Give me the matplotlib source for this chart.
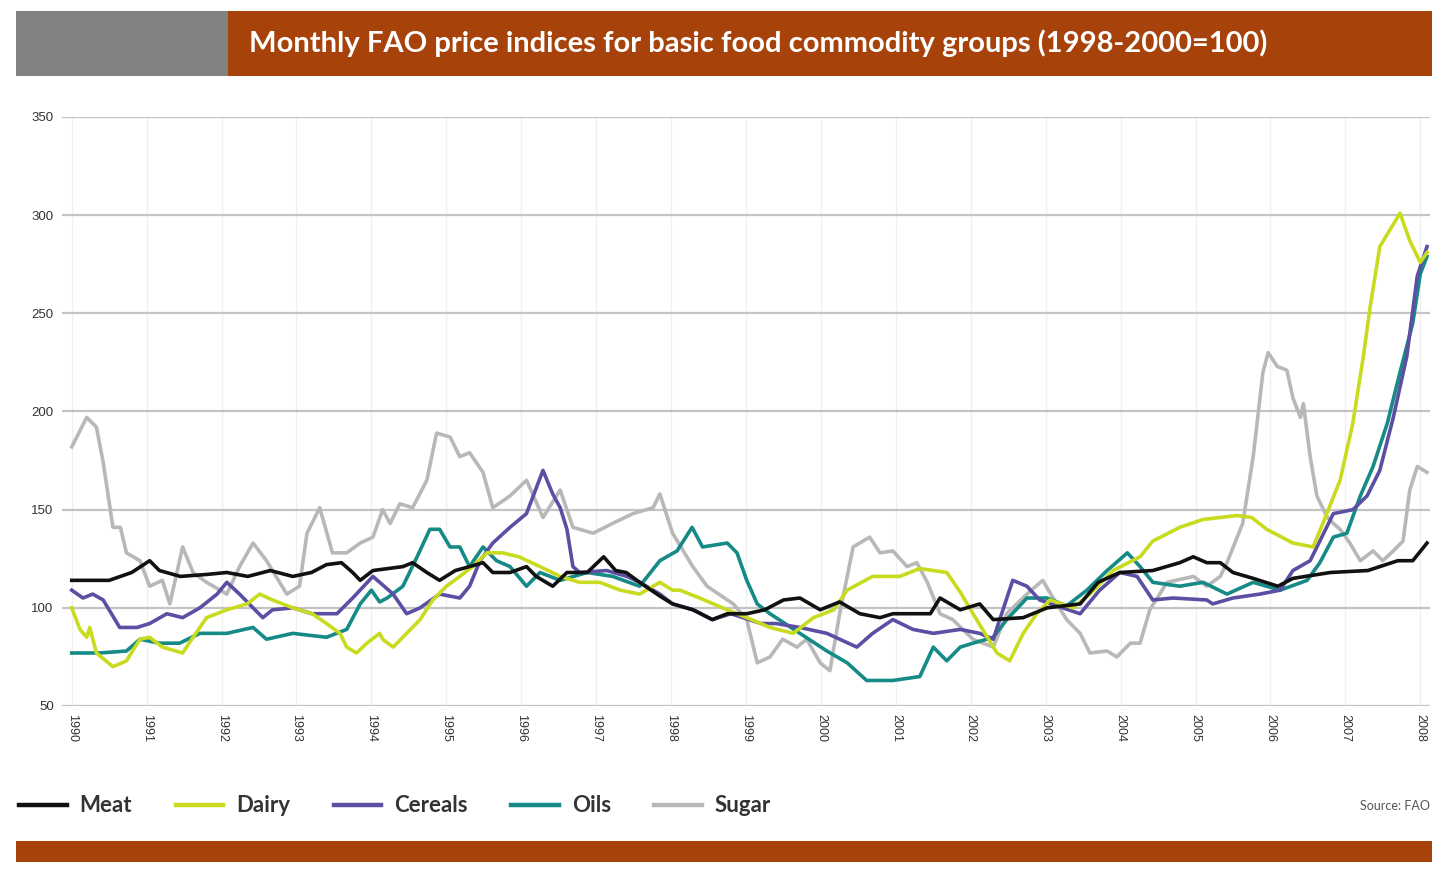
import matplotlib
matplotlib.use("Agg")
import matplotlib.pyplot as plt
from matplotlib.patches import Rectangle
from matplotlib.lines import Line2D

plt.rcParams['font.family'] = ['Lato', 'DejaVu Sans']

title = "Monthly FAO price indices for basic food commodity groups (1998-2000=100)"
source = "Source: FAO"
years = list(range(1990, 2009))
yticks = [50, 100, 150, 200, 250, 300, 350]

# (decimal year, index value)
meat = [(1990.0,114),(1990.5,114),(1990.8,118),(1991.04,124),(1991.17,119),(1991.45,116),(1991.8,117),
        (1992.07,118),(1992.35,116),(1992.65,119),(1992.95,116),(1993.2,118),(1993.4,122),(1993.6,123),
        (1993.75,118),(1993.85,114),(1994.02,119),(1994.42,121),(1994.55,123),(1994.74,118),(1994.91,114),
        (1995.12,119),(1995.31,121),(1995.49,123),(1995.62,118),(1995.85,118),(1996.07,121),(1996.2,116),
        (1996.42,111),(1996.61,118),(1996.88,118),(1997.1,126),(1997.26,119),(1997.4,118),(1997.58,113),
        (1997.85,106),(1998.02,102),(1998.29,99),(1998.55,94),(1998.75,97),(1999.01,97),(1999.25,99),
        (1999.5,104),(1999.72,105),(1999.99,99),(2000.25,103),(2000.52,97),(2000.79,95),(2000.96,97),
        (2001.23,97),(2001.46,97),(2001.59,105),(2001.86,99),(2002.12,102),(2002.3,94),(2002.7,95),
        (2003.02,100),(2003.46,102),(2003.7,113),(2003.99,118),(2004.43,119),(2004.79,123),(2004.97,126),
        (2005.15,123),(2005.33,123),(2005.5,118),(2005.77,115),(2006.1,111),(2006.3,115),(2006.8,118),
        (2007.3,119),(2007.7,124),(2007.9,124),(2008.09,133)]

dairy = [(1990.0,100),(1990.11,89),(1990.2,85),(1990.24,90),(1990.33,77),(1990.55,70),(1990.73,73),
         (1990.91,84),(1991.04,85),(1991.21,80),(1991.48,77),(1991.62,85),(1991.8,95),(1992.07,99),
         (1992.34,102),(1992.51,107),(1992.68,104),(1992.95,100),(1993.21,97),(1993.4,92),(1993.58,87),
         (1993.67,80),(1993.8,77),(1993.94,82),(1994.11,87),(1994.15,84),(1994.29,80),(1994.47,87),
         (1994.65,94),(1994.82,104),(1995.0,111),(1995.18,116),(1995.35,121),(1995.54,128),(1995.75,128),
         (1995.97,126),(1996.25,121),(1996.52,116),(1996.78,113),(1997.05,113),(1997.32,109),(1997.58,107),
         (1997.85,113),(1998.02,109),(1998.12,109),(1998.38,105),(1998.75,99),(1999.01,95),(1999.32,90),
         (1999.63,87),(1999.9,95),(2000.17,99),(2000.35,109),(2000.69,116),(2001.05,116),(2001.32,120),
         (2001.68,118),(2001.86,108),(2002.03,97),(2002.35,77),(2002.52,73),(2002.7,87),(2002.88,97),
         (2003.06,104),(2003.36,100),(2003.59,107),(2003.9,119),(2004.26,126),(2004.43,134),(2004.79,141),
         (2005.1,145),(2005.55,147),(2005.75,146),(2005.95,140),(2006.3,133),(2006.57,131),(2006.7,143),
         (2006.93,165),(2007.1,194),(2007.24,228),(2007.33,253),(2007.46,284),(2007.73,301),(2007.86,287),
         (2008.0,276),(2008.09,281)]

cereals = [(1990.0,109),(1990.15,105),(1990.28,107),(1990.42,104),(1990.64,90),(1990.87,90),(1991.04,92),
           (1991.27,97),(1991.48,95),(1991.71,100),(1991.94,107),(1992.07,113),(1992.24,107),(1992.42,100),
           (1992.55,95),(1992.68,99),(1992.95,100),(1993.21,97),(1993.54,97),(1993.75,105),(1994.02,116),
           (1994.11,113),(1994.29,107),(1994.47,97),(1994.65,100),(1994.91,107),(1995.18,105),(1995.31,111),
           (1995.45,124),(1995.62,133),(1995.85,141),(1996.07,148),(1996.29,170),(1996.42,158),(1996.52,151),
           (1996.61,140),(1996.69,121),(1996.78,118),(1997.14,119),(1997.41,116),(1997.58,113),(1997.85,107),
           (1998.02,102),(1998.3,99),(1998.55,94),(1998.8,97),(1999.2,92),(1999.4,92),(1999.72,90),
           (2000.08,87),(2000.48,80),(2000.69,87),(2000.96,94),(2001.23,89),(2001.5,87),(2001.86,89),
           (2002.12,87),(2002.3,84),(2002.56,114),(2002.75,111),(2002.92,104),(2003.15,101),(2003.46,97),
           (2003.72,109),(2003.99,118),(2004.22,116),(2004.43,104),(2004.7,105),(2005.15,104),(2005.23,102),
           (2005.5,105),(2005.86,107),(2006.13,109),(2006.3,119),(2006.53,124),(2006.84,148),(2007.1,150),
           (2007.29,157),(2007.46,170),(2007.64,197),(2007.82,228),(2007.96,269),(2008.09,284)]

oils = [(1990.0,77),(1990.37,77),(1990.73,78),(1990.91,84),(1991.17,82),(1991.44,82),(1991.71,87),
        (1992.07,87),(1992.42,90),(1992.6,84),(1992.95,87),(1993.4,85),(1993.67,89),(1993.85,102),
        (1994.0,109),(1994.11,103),(1994.21,105),(1994.42,111),(1994.61,126),(1994.78,140),(1994.91,140),
        (1995.05,131),(1995.18,131),(1995.31,121),(1995.49,131),(1995.67,124),(1995.85,121),(1996.07,111),
        (1996.25,118),(1996.52,114),(1996.88,118),(1997.22,116),(1997.58,111),(1997.85,124),(1998.08,129),
        (1998.28,141),(1998.42,131),(1998.75,133),(1998.88,128),(1999.01,114),(1999.15,102),(1999.32,97),
        (1999.72,87),(2000.08,78),(2000.35,72),(2000.61,63),(2000.96,63),(2001.32,65),(2001.5,80),
        (2001.68,73),(2001.86,80),(2002.03,82),(2002.3,85),(2002.48,94),(2002.75,105),(2003.02,105),
        (2003.28,101),(2003.55,109),(2003.82,119),(2004.09,128),(2004.26,121),(2004.43,113),(2004.79,111),
        (2005.1,113),(2005.42,107),(2005.77,113),(2006.13,109),(2006.49,114),(2006.66,123),(2006.84,136),
        (2007.02,138),(2007.2,157),(2007.37,172),(2007.56,194),(2007.73,220),(2007.9,245),(2008.0,270),
        (2008.09,279)]

sugar = [(1990.0,182),(1990.2,197),(1990.33,192),(1990.42,174),(1990.55,141),(1990.65,141),(1990.73,128),
         (1990.91,124),(1991.04,111),(1991.21,114),(1991.31,102),(1991.48,131),(1991.62,118),(1991.8,113),
         (1992.07,107),(1992.24,121),(1992.42,133),(1992.6,124),(1992.87,107),(1993.04,111),(1993.14,138),
         (1993.31,151),(1993.48,128),(1993.67,128),(1993.85,133),(1994.02,136),(1994.15,150),(1994.25,143),
         (1994.38,153),(1994.55,151),(1994.74,165),(1994.87,189),(1995.05,187),(1995.18,177),(1995.31,179),
         (1995.49,169),(1995.62,151),(1995.85,157),(1996.07,165),(1996.21,153),(1996.29,146),(1996.52,160),
         (1996.69,141),(1996.96,138),(1997.22,143),(1997.49,148),(1997.76,151),(1997.85,158),(1998.02,138),
         (1998.29,121),(1998.48,111),(1998.83,102),(1999.01,94),(1999.15,72),(1999.32,75),(1999.49,84),
         (1999.68,80),(1999.81,84),(1999.99,72),(2000.12,68),(2000.25,97),(2000.43,131),(2000.65,136),
         (2000.79,128),(2000.96,129),(2001.15,121),(2001.28,123),(2001.42,113),(2001.59,97),(2001.76,94),
         (2002.03,84),(2002.3,80),(2002.48,97),(2002.75,107),(2002.96,114),(2003.1,105),(2003.28,94),
         (2003.46,87),(2003.59,77),(2003.82,78),(2003.95,75),(2004.13,82),(2004.26,82),(2004.39,99),
         (2004.62,113),(2004.97,116),(2005.15,111),(2005.33,116),(2005.42,123),(2005.63,143),(2005.77,177),
         (2005.9,220),(2005.97,230),(2006.09,223),(2006.22,221),(2006.3,207),(2006.4,197),(2006.44,204),
         (2006.53,177),(2006.62,157),(2006.76,146),(2006.84,143),(2006.93,140),(2007.06,133),(2007.2,124),
         (2007.37,129),(2007.5,124),(2007.64,129),(2007.77,134),(2007.86,160),(2007.96,172),(2008.09,169)]

series = [("Meat", meat, "#111111"),
          ("Dairy", dairy, "#c9db1f"),
          ("Cereals", cereals, "#5a4fa3"),
          ("Oils", oils, "#158a86"),
          ("Sugar", sugar, "#b8b8b8")]

ORANGE = "#a8420b"
W, H = 1450, 883
fig = plt.figure(figsize=(W/100, H/100), dpi=100)

def fx(px):
    return px / W

def fy(py):
    return 1 - py / H

# header
fig.patches.append(Rectangle((fx(16), fy(76)), fx(228-16), (76-11)/H, transform=fig.transFigure,
                             facecolor="#828282", edgecolor="none"))
fig.patches.append(Rectangle((fx(228), fy(76)), fx(1432-228), (76-11)/H, transform=fig.transFigure,
                             facecolor=ORANGE, edgecolor="none"))
fig.text(fx(249), fy(43), title, color="white", fontsize=21, fontweight="bold",
         ha="left", va="center")
# bottom bar
fig.patches.append(Rectangle((fx(16), fy(862)), fx(1432-16), (862-841)/H, transform=fig.transFigure,
                             facecolor=ORANGE, edgecolor="none"))

ax = fig.add_axes([fx(62), fy(706), fx(1430-62), (706-117)/H])
for name, data, color in series[::-1]:
    ax.plot([d[0] for d in data], [d[1] for d in data], color=color, lw=2.6,
            solid_joinstyle="round", label=name, zorder=3)

ax.set_xlim(1989.87, 2008.13)
ax.set_ylim(50, 350)
ax.set_yticks(yticks)
ax.set_xticks(years)
ax.set_yticklabels([str(v) for v in yticks], fontsize=9.5, color="#333333",
                   family=["Liberation Sans Narrow", "Liberation Sans", "DejaVu Sans"])
ax.set_xticklabels([str(y) for y in years], rotation=270, fontsize=9, color="#333333",
                   family=["Liberation Sans Narrow", "Liberation Sans", "DejaVu Sans"])
ax.tick_params(axis="both", length=0, pad=6)
for v in yticks:
    ax.axhline(v, color="#c4c4c4", lw=1.6, zorder=1)
for y in years:
    ax.axvline(y, color="#f0f0f0", lw=1.0, zorder=0)
for s in ax.spines.values():
    s.set_visible(False)

handles = [Line2D([0], [0], color=c, lw=3.2) for _, _, c in series]
labels = [n for n, _, _ in series]
leg = fig.legend(handles, labels, loc="center left", bbox_to_anchor=(fx(-1), fy(806)),
                 ncol=5, frameon=False, handlelength=2.15, handletextpad=0.58,
                 columnspacing=1.95, prop={"family": "Lato", "weight": "bold", "size": 16})
for t in leg.get_texts():
    t.set_color("#333333")
fig.text(fx(1430), fy(806), source, fontsize=9, color="#555555", ha="right", va="center")

fig.savefig("out.png", dpi=100)
